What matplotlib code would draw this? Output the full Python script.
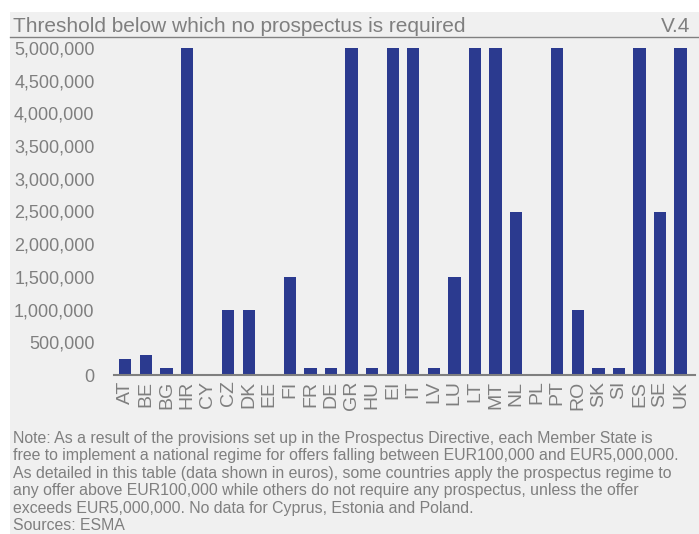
import matplotlib.pyplot as plt
from matplotlib.patches import Rectangle
from matplotlib.lines import Line2D
from matplotlib.ticker import FuncFormatter

countries = ["AT", "BE", "BG", "HR", "CY", "CZ", "DK", "EE", "FI", "FR", "DE", "GR", "HU", "EI",
             "IT", "LV", "LU", "LT", "MT", "NL", "PL", "PT", "RO", "SK", "SI", "ES", "SE", "UK"]
threshold = [250000, 300000, 100000, 5000000, 0, 1000000, 1000000, 0, 1500000, 100000, 100000,
             5000000, 100000, 5000000, 5000000, 100000, 1500000, 5000000, 5000000, 2500000, 0,
             5000000, 1000000, 100000, 100000, 5000000, 2500000, 5000000]

title = "Threshold below which no prospectus is required"
chart_id = "V.4"
note = ("Note: As a result of the provisions set up in the Prospectus Directive, each Member State is\n"
        "free to implement a national regime for offers falling between EUR100,000 and EUR5,000,000.\n"
        "As detailed in this table (data shown in euros), some countries apply the prospectus regime to\n"
        "any offer above EUR100,000 while others do not require any prospectus, unless the offer\n"
        "exceeds EUR5,000,000. No data for Cyprus, Estonia and Poland.\n"
        "Sources: ESMA")

grey = "#7f7f7f"
bar_col = "#2b3a8f"
plt.rcParams['font.family'] = ['Liberation Sans Narrow', 'Liberation Sans', 'DejaVu Sans']

fig = plt.figure(figsize=(6.99, 5.34), dpi=100)
fig.patch.set_facecolor("white")
# grey panel behind everything
fig.patches.append(Rectangle((10/699, 0), 1, 522/534, transform=fig.transFigure,
                             facecolor="#f0f0f0", edgecolor="none", zorder=-10))
fig.lines.append(Line2D([10/699, 1], [(534-37)/534]*2, transform=fig.transFigure,
                        color="#808080", lw=1))
fig.text(13/699, (534-32)/534, title, fontsize=15, color=grey, va="baseline", ha="left")
fig.text(690/699, (534-32)/534, chart_id, fontsize=15, color=grey, va="baseline", ha="right")
fig.text(13/699, (534-431)/534, note, fontsize=11.4, color=grey, va="top", ha="left",
         linespacing=1.2)

ax = fig.add_axes([114/699, (534-375)/534, (695-114)/699, (375-48)/534])
ax.set_facecolor("none")
ax.bar(range(len(countries)), threshold, width=0.6, color=bar_col)
ax.set_ylim(0, 5000000)
ax.set_xlim(-0.55, len(countries) - 0.3)
ax.set_yticks(range(0, 5000001, 500000))
ax.yaxis.set_major_formatter(FuncFormatter(lambda v, p: f"{int(v):,}"))
ax.set_xticks(range(len(countries)))
ax.set_xticklabels(countries, rotation=90)
ax.tick_params(axis="y", length=0, labelsize=13, labelcolor=grey, pad=14)
ax.tick_params(axis="x", length=0, labelsize=14, labelcolor=grey, pad=4)
for s in ["top", "right", "left"]:
    ax.spines[s].set_visible(False)
ax.spines["bottom"].set_color(grey)
ax.spines["bottom"].set_linewidth(1.5)

fig.savefig("out.png", dpi=100)
